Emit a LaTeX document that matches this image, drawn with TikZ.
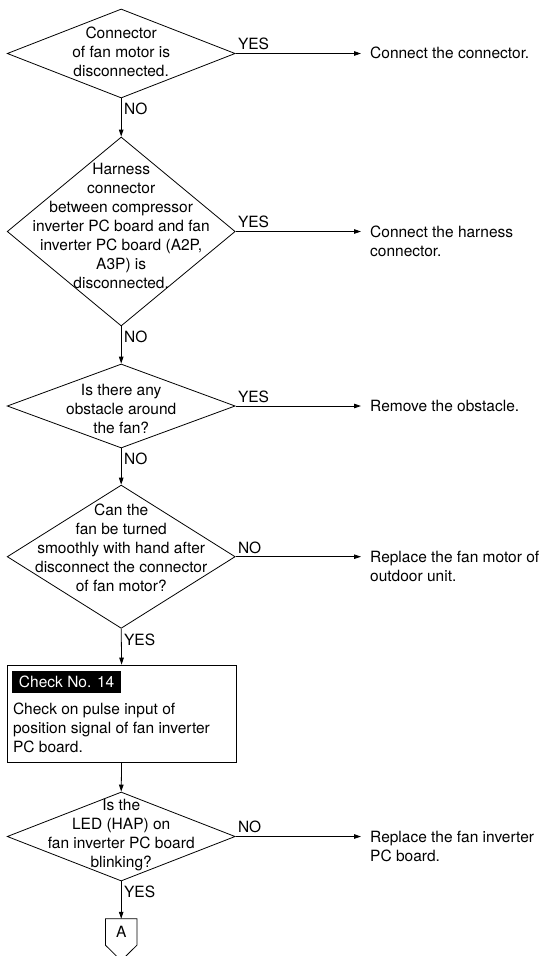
\documentclass[tikz,border=0pt]{standalone}
\usepackage{fontspec}
\setmainfont{TeX Gyre Heros}
\usetikzlibrary{arrows.meta,positioning,calc,shapes.geometric}

\begin{document}
\begin{tikzpicture}[
  x=1pt, y=-1pt,
  every node/.style={font=\fontsize{15.5}{19}\selectfont},
  decision/.style={diamond, draw, line width=0.8pt, minimum width=228pt, minimum height=#1, inner sep=0pt},
  qtext/.style={align=center, inner sep=0pt},
  result/.style={anchor=west, align=left, inner xsep=9pt, inner ysep=0pt},
  side/.style={anchor=south west, inner xsep=2pt, inner ysep=3pt},
  down/.style={anchor=north west, inner xsep=2.5pt, inner ysep=4.5pt},
  arr/.style={-{Triangle[length=7pt,width=4.5pt]}, line width=0.8pt},
  stepbox/.style={draw, line width=0.8pt, minimum width=228.7pt, minimum height=97pt, inner sep=0pt},
  tag/.style={fill=black, text=white, inner xsep=6.5pt, inner ysep=0pt, minimum height=22pt},
]
  \useasboundingbox (0,0) rectangle (546,956);

  % questions
  \node[decision=89pt] (d1) at (121.2,53.5) {};
  \node[qtext] (q1) at (121.2,51.5) {Connector\\of fan motor is\\disconnected.};
  \node[decision=189pt] (d2) at (121.2,231.5) {};
  \node[qtext] (q2) at (121.2,225.5) {Harness\\connector\\between compressor\\inverter PC board and fan\\inverter PC board (A2P,\\A3P) is\\disconnected.};
  \node[decision=84pt] (d3) at (121.2,406) {};
  \node[qtext] (q3) at (121.2,409) {Is there any\\obstacle around\\the fan?};
  \node[decision=143.3pt] (d4) at (121.2,556.7) {};
  \node[qtext] (q4) at (121.2,548) {Can the\\fan be turned\\smoothly with hand after\\disconnect the connector\\of fan motor?};

  % check box
  \node[stepbox] (chk) at (121.6,713.5) {};
  \node[tag, anchor=north west] (tag) at ($(chk.north west)+(5.4,6)$) {Check No. 14};
  \node[anchor=north west, align=left, inner sep=0pt] (chktxt) at ($(tag.south west)+(0.6,10)$) {Check on pulse input of\\position signal of fan inverter\\PC board.};

  \node[decision=89pt] (d5) at (121.2,836.5) {};
  \node[qtext] (q5) at (121.2,835.5) {Is the\\LED (HAP) on\\fan inverter PC board\\blinking?};

  % off-page connector
  \node[inner sep=0pt, minimum width=31pt, minimum height=26pt] (conA) at (121.2,932) {A};
  \draw[line width=0.8pt] (conA.north west) -- (conA.south west) -- ($(conA.south)+(0,15.5)$) -- (conA.south east) -- (conA.north east) -- cycle;

  % remedies
  \node[result] (r1) at (361,53.3) {Connect the connector.};
  \node[result] (r2) at (361,241) {Connect the harness\\connector.};
  \node[result] (r3) at (361,406) {Remove the obstacle.};
  \node[result] (r4) at (361,566) {Replace the fan motor of\\outdoor unit.};
  \node[result] (r5) at (361,846) {Replace the fan inverter\\PC board.};

  % flow
  \draw[arr] (d1.south) -- (d2.north) node[down, pos=0] (n1) {NO};
  \draw[arr] (d2.south) -- (d3.north) node[down, pos=0] (n2) {NO};
  \draw[arr] (d3.south) -- (d4.north) node[down, pos=0] (n3) {NO};
  \draw[arr] (d4.south) -- (chk.north) node[down, pos=0] (y4) {YES};
  \draw[arr] (chk.south) -- (d5.north);
  \draw[arr] (d5.south) -- (conA.north) node[down, pos=0] (y5) {YES};

  \draw[arr] (d1.east) -- (d1.east -| r1.west) node[side, pos=0] (y1) {YES};
  \draw[arr] (d2.east) -- (d2.east -| r2.west) node[side, pos=0] (y2) {YES};
  \draw[arr] (d3.east) -- (d3.east -| r3.west) node[side, pos=0] (y3) {YES};
  \draw[arr] (d4.east) -- (d4.east -| r4.west) node[side, pos=0] (n4) {NO};
  \draw[arr] (d5.east) -- (d5.east -| r5.west) node[side, pos=0] (n5) {NO};
\end{tikzpicture}
\end{document}
